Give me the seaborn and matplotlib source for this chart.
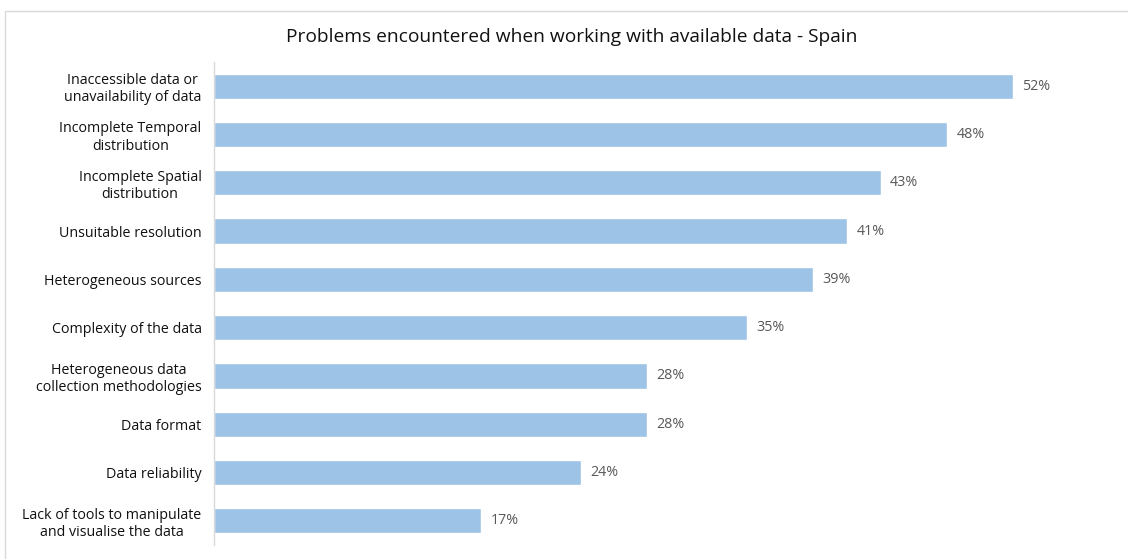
import matplotlib
matplotlib.use("Agg")
import matplotlib.pyplot as plt
import seaborn as sns
import pandas as pd
from matplotlib.patches import Rectangle

# Data
problems = [
    "Inaccessible data or\nunavailability of data",
    "Incomplete Temporal\ndistribution",
    "Incomplete Spatial\ndistribution",
    "Unsuitable resolution",
    "Heterogeneous sources",
    "Complexity of the data",
    "Heterogeneous data\ncollection methodologies",
    "Data format",
    "Data reliability",
    "Lack of tools to manipulate\nand visualise the data",
]
shares = [52.0, 47.7, 43.4, 41.2, 39.0, 34.7, 28.2, 28.2, 23.9, 17.4]

df = pd.DataFrame({"Problem": problems, "Share": shares})

sns.set_style("white")
plt.rcParams["font.family"] = ["Open Sans", "DejaVu Sans"]

fig = plt.figure(figsize=(11.28, 5.59), dpi=100)
ax = fig.add_axes([214 / 1128, 1 - 545 / 559, (1090 - 214) / 1128, (545 - 62) / 559])

sns.barplot(data=df, y="Problem", x="Share", color="#9DC3E6", width=0.52,
            saturation=1, ax=ax, orient="h")

for bar, v in zip(ax.patches, shares):
    ax.text(bar.get_width() + 0.6, bar.get_y() + bar.get_height() / 2,
            f"{v:.0f}%", va="center", ha="left", fontsize=10.3, color="#595959")

ax.set_xlim(0, 57)
ax.set_xlabel("")
ax.set_ylabel("")
ax.set_xticks([])
ax.tick_params(axis="y", length=0, pad=9, labelsize=10.3, labelcolor="#111111")
for lbl in ax.get_yticklabels():
    lbl.set_horizontalalignment("right")
    lbl.set_multialignment("center")
for s in ["top", "right", "bottom"]:
    ax.spines[s].set_visible(False)
ax.spines["left"].set_color("#D9D9D9")
ax.spines["left"].set_linewidth(1)

fig.text(572 / 1128, 1 - 37 / 559, "Problems encountered when working with available data - Spain",
         ha="center", va="center", fontsize=13.8, color="#111111")

fig.patches.append(Rectangle((5 / 1128, -0.05), 1.1, 1 - 11 / 559 + 0.05,
                             transform=fig.transFigure, fill=False,
                             edgecolor="#D9D9D9", linewidth=1))

fig.savefig("out.png", dpi=100)
